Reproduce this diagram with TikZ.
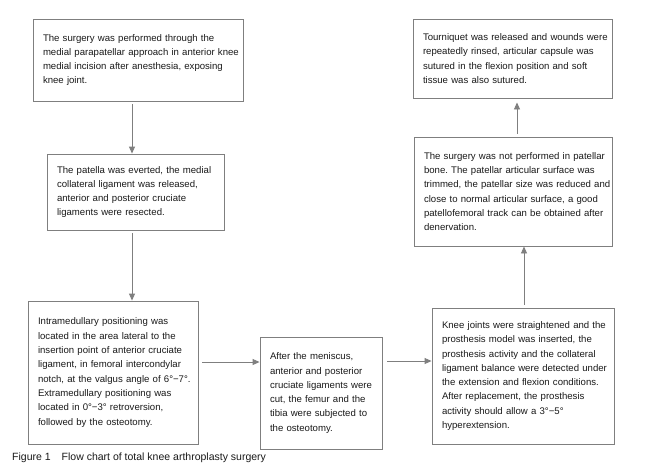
\documentclass[tikz,border=0pt]{standalone}
\usepackage{fontspec}
\setmainfont{Liberation Sans}
\usetikzlibrary{arrows.meta}
\definecolor{edgegray}{HTML}{7F7F7F}
\definecolor{txt}{HTML}{1A1A1A}
\frenchspacing
\begin{document}
\begin{tikzpicture}[x=1pt,y=-1pt,
  stepbox/.style={draw=edgegray, line width=0.9pt, rectangle, align=left,
    inner xsep=10pt, inner ysep=0pt, text=txt,
    font=\fontsize{9.6}{14.3}\selectfont\frenchspacing},
  arr/.style={draw=edgegray, line width=0.9pt,
    -{Triangle[length=7pt,width=6pt]}, shorten <=3pt}]
\useasboundingbox (0,0) rectangle (668,475);
\fill[white] (0,0) rectangle (668,475);

\node[stepbox, text width=190pt, minimum height=82pt] (B1) at (138,60)
 {\mbox{The surgery was performed through the}\\
  \mbox{medial parapatellar approach in anterior knee}\\
  \mbox{medial incision after anesthesia, exposing}\\
  \mbox{knee joint.}};

\node[stepbox, text width=157pt, minimum height=76pt] (B2) at (135.5,192)
 {\mbox{The patella was everted, the medial}\\
  \mbox{collateral ligament was released,}\\
  \mbox{anterior and posterior cruciate}\\
  \mbox{ligaments were resected.}};

\node[stepbox, text width=150pt, minimum height=143pt] (B3) at (113,372.5)
 {\mbox{Intramedullary positioning was}\\
  \mbox{located in the area lateral to the}\\
  \mbox{insertion point of anterior cruciate}\\
  \mbox{ligament, in femoral intercondylar}\\
  \mbox{notch, at the valgus angle of 6°−7°.}\\
  \mbox{Extramedullary positioning was}\\
  \mbox{located in 0°−3° retroversion,}\\
  \mbox{followed by the osteotomy.}};

\node[stepbox, text width=102pt, minimum height=112pt] (B4) at (321,393)
 {\mbox{After the meniscus,}\\
  \mbox{anterior and posterior}\\
  \mbox{cruciate ligaments were}\\
  \mbox{cut, the femur and the}\\
  \mbox{tibia were subjected to}\\
  \mbox{the osteotomy.}};

\node[stepbox, text width=162pt, minimum height=136pt] (B5) at (523,376)
 {\mbox{Knee joints were straightened and the}\\
  \mbox{prosthesis model was inserted, the}\\
  \mbox{prosthesis activity and the collateral}\\
  \mbox{ligament balance were detected under}\\
  \mbox{the extension and flexion conditions.}\\
  \mbox{After replacement, the prosthesis}\\
  \mbox{activity should allow a 3°−5°}\\
  \mbox{hyperextension.}};

\node[stepbox, text width=178pt, minimum height=109pt] (B6) at (513,191.5)
 {\mbox{The surgery was not performed in patellar}\\
  \mbox{bone. The patellar articular surface was}\\
  \mbox{trimmed, the patellar size was reduced and}\\
  \mbox{close to normal articular surface, a good}\\
  \mbox{patellofemoral track can be obtained after}\\
  \mbox{denervation.}};

\node[stepbox, text width=179pt, minimum height=79pt] (B7) at (512.5,58.5)
 {\mbox{Tourniquet was released and wounds were}\\
  \mbox{repeatedly rinsed, articular capsule was}\\
  \mbox{sutured in the flexion position and soft}\\
  \mbox{tissue was also sutured.}};

\coordinate (xa) at (132,0);
\coordinate (xb) at (524,0);
\coordinate (xc) at (517,0);
\coordinate (ya) at (0,362);
\coordinate (yb) at (0,361);

\draw[arr] (B1.south -| xa) -- (B2.north -| xa);
\draw[arr] (B2.south -| xa) -- (B3.north -| xa);
\draw[arr, shorten <=4pt] (B3.east |- ya) -- (B4.west |- ya);
\draw[arr, shorten <=5pt] (B4.east |- yb) -- (B5.west |- yb);
\draw[arr] (B5.north -| xb) -- (B6.south -| xb);
\draw[arr, shorten >=4pt] (B6.north -| xc) -- (B7.south -| xc);

\node[anchor=base west, inner sep=0pt, text=txt,
  font=\fontsize{10.5}{12}\selectfont] (cap) at (12,460)
 {Figure 1\hspace{11pt}Flow chart of total knee arthroplasty surgery};
\end{tikzpicture}
\end{document}
